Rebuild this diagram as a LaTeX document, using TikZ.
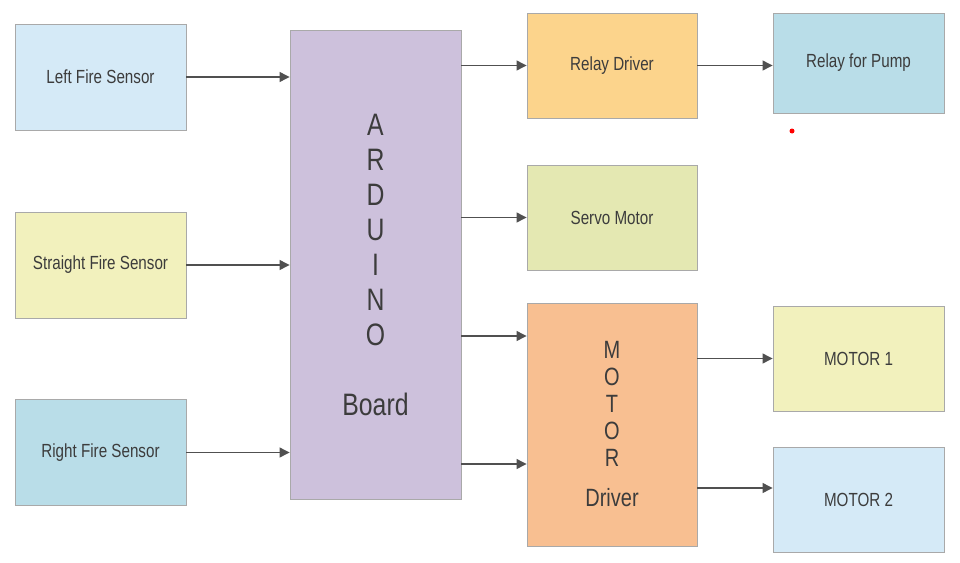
\documentclass[tikz,border=0pt]{standalone}
\usepackage{fontspec}
\setmainfont{Liberation Sans}[FakeStretch=0.8]
\usetikzlibrary{positioning,arrows.meta}

\definecolor{boxgray}{HTML}{A9A9A9}
\definecolor{arrowgray}{HTML}{505050}
\definecolor{textgray}{HTML}{3C3C3C}
\definecolor{paleblue}{HTML}{D5EAF7}
\definecolor{tealblue}{HTML}{B9DDE8}
\definecolor{paleyellow}{HTML}{F2F1BD}
\definecolor{lilac}{HTML}{CDC1DC}
\definecolor{apricot}{HTML}{FCD48C}
\definecolor{pistachio}{HTML}{E4E8B2}
\definecolor{peach}{HTML}{F8BF91}

\begin{document}
\begin{tikzpicture}[%
            x=1pt,
            y=-1pt,
            ->,
            >={Triangle[length=10pt,width=10pt]},
            link/.style={%
            	draw=arrowgray,
            	line width=1.2pt
            },
            block/.style={%
            	rectangle,
            	draw=boxgray,
            	line width=0.9pt,
            	minimum width=171pt,
            	minimum height=106pt,
            	inner sep=0pt,
            	align=center,
            	text=textgray,
            	font=\fontsize{19}{22}\selectfont
            },
            board/.style={%
            	block,
            	minimum height=469pt,
            	font=\fontsize{31}{35}\selectfont
            }
            ]
            \useasboundingbox (0,0) rectangle (960,562);

            % inputs
            \node[block, fill=paleblue] (lfs) at (100.5,77)        {Left Fire Sensor};
            \node[block, fill=paleyellow] (sfs) at (100.5,265)     {Straight Fire Sensor};
            \node[block, fill=tealblue] (rfs) at (100.5,452.5)     {Right Fire Sensor};

            % controller
            \node[board, fill=lilac] (ard) at (375.5,264.5)
                {A\\R\\D\\U\\I\\N\\O\\[35pt]Board};

            % outputs
            \node[block, fill=apricot, minimum width=170pt, minimum height=105pt] (reldrv) at (612,65.5) {Relay Driver};
            \node[block, fill=tealblue, minimum height=100pt] (pump) at (858.5,63) {Relay for Pump};
            \node[block, fill=pistachio, minimum width=170pt, minimum height=105pt] (servo) at (612,217.5) {Servo Motor};
            \node[block, fill=peach, minimum width=170pt, minimum height=243pt,
                  font=\fontsize{25}{27}\selectfont] (mdrv) at (612,424.5)
                {M\\O\\T\\O\\R\\[13pt]Driver};
            \node[block, fill=paleyellow, minimum height=105pt] (m1) at (858.5,358.5) {MOTOR 1};
            \node[block, fill=paleblue, minimum height=105pt] (m2) at (858.5,499.5)   {MOTOR 2};

            \coordinate (in1) at ([yshift=88.5pt]mdrv.west);
            \coordinate (in2) at ([yshift=-39.5pt]mdrv.west);
            \coordinate (in3) at ([yshift=11.5pt]m2.west);

            \path[link] (lfs) -- (lfs -| ard.west);
            \path[link] (sfs) -- (sfs -| ard.west);
            \path[link] (rfs) -- (rfs -| ard.west);
            \path[link] (ard.east |- reldrv) -- (reldrv);
            \path[link] (ard.east |- servo) -- (servo);
            \path[link] (in1 -| ard.east) -- (in1);
            \path[link] (in2 -| ard.east) -- (in2);
            \path[link] (reldrv) -- (reldrv -| pump.west);
            \path[link] (mdrv.east |- m1) -- (m1);
            \path[link] (in3 -| mdrv.east) -- (in3);

            \fill[-, red] (792,131) circle (2.5pt);
\end{tikzpicture}
\end{document}
